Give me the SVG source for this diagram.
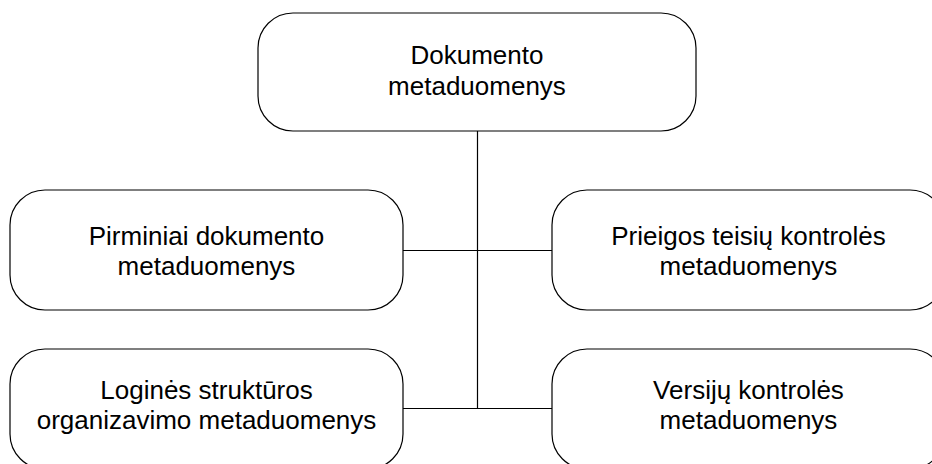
<svg xmlns="http://www.w3.org/2000/svg" width="932" height="464" viewBox="0 0 932 464">
  <style>
    .box { fill: #ffffff; stroke: #000000; stroke-width: 1.2; }
    .link { fill: none; stroke: #000000; stroke-width: 1.2; }
    .label { font-family: "Liberation Sans", Arial, sans-serif; font-size: 26px; fill: #000000; text-anchor: middle; }
  </style>
  <rect width="932" height="464" fill="#ffffff"/>

  <!-- tree connectors -->
  <g id="connectors">
    <path class="link" d="M477.5 131 V408.5"/>
    <path class="link" d="M403 250.5 H552"/>
    <path class="link" d="M403 408.5 H552"/>
  </g>

  <g id="root">
    <rect class="box" x="258" y="13" width="438" height="118" rx="35" ry="35"/>
    <text class="label" x="477" y="64">Dokumento</text>
    <text class="label" x="477" y="95">metaduomenys</text>
  </g>

  <g id="primary">
    <rect class="box" x="10" y="190" width="393" height="120" rx="35" ry="35"/>
    <text class="label" x="206.5" y="245">Pirminiai dokumento</text>
    <text class="label" x="206.5" y="275">metaduomenys</text>
  </g>

  <g id="access">
    <rect class="box" x="552" y="190" width="393" height="120" rx="35" ry="35"/>
    <text class="label" x="748.5" y="245">Prieigos teisių kontrolės</text>
    <text class="label" x="748.5" y="275">metaduomenys</text>
  </g>

  <g id="logical">
    <rect class="box" x="10" y="349" width="393" height="120" rx="35" ry="35"/>
    <text class="label" x="206.5" y="399">Loginės struktūros</text>
    <text class="label" x="206.5" y="429">organizavimo metaduomenys</text>
  </g>

  <g id="versions">
    <rect class="box" x="552" y="349" width="393" height="120" rx="35" ry="35"/>
    <text class="label" x="748.5" y="399">Versijų kontrolės</text>
    <text class="label" x="748.5" y="429">metaduomenys</text>
  </g>
</svg>
